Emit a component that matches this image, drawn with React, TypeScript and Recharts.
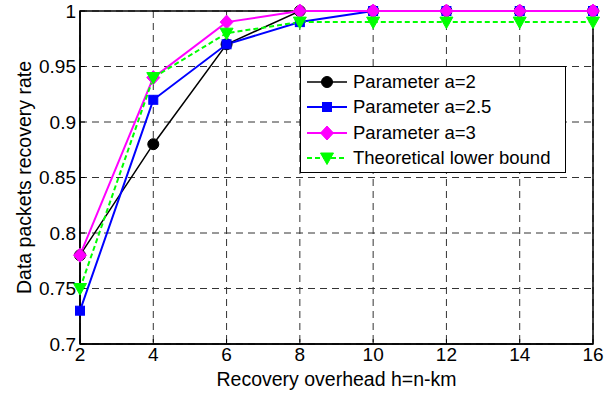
import React from "react";
import { LineChart, Line, XAxis, YAxis, CartesianGrid, ReferenceArea } from "recharts";

const xValues = [2, 4, 6, 8, 10, 12, 14, 16];
const seriesA2 = [0.78, 0.88, 0.97, 1, 1, 1, 1, 1];
const seriesA25 = [0.73, 0.92, 0.97, 0.99, 1, 1, 1, 1];
const seriesA3 = [0.78, 0.94, 0.99, 1, 1, 1, 1, 1];
const lowerBound = [0.75, 0.94, 0.98, 0.99, 0.99, 0.99, 0.99, 0.99];
const xTicks = [2, 4, 6, 8, 10, 12, 14, 16];
const yTicks = [0.7, 0.75, 0.8, 0.85, 0.9, 0.95, 1];

const seriesNames = ["Parameter a=2", "Parameter a=2.5", "Parameter a=3", "Theoretical lower bound"];

const data = xValues.map((x, i) => ({
  x,
  a2: seriesA2[i],
  a25: seriesA25[i],
  a3: seriesA3[i],
  lb: lowerBound[i],
}));

const FONT = "'Liberation Sans', Arial, sans-serif";

type Shape = "circle" | "square" | "diamond" | "triangle";

function Marker({ shape, cx, cy, color }: { shape: Shape; cx: number; cy: number; color: string }) {
  if (shape === "circle") return <circle cx={cx} cy={cy} r={5.5} fill={color} stroke={color} />;
  if (shape === "square") return <rect x={cx - 4.5} y={cy - 4.5} width={9} height={9} fill={color} stroke={color} />;
  if (shape === "diamond")
    return (
      <polygon
        points={`${cx},${cy - 7} ${cx + 6.5},${cy} ${cx},${cy + 7} ${cx - 6.5},${cy}`}
        fill={color}
        stroke={color}
      />
    );
  return (
    <polygon
      points={`${cx - 6.5},${cy - 5} ${cx + 6.5},${cy - 5} ${cx},${cy + 6.5}`}
      fill={color}
      stroke={color}
    />
  );
}

const makeDot = (shape: Shape, color: string) => (props: any) => {
  const { cx, cy, index } = props;
  if (cx == null || cy == null) return <g key={`d-${shape}-${index}`} />;
  return (
    <g key={`d-${shape}-${index}`}>
      <Marker shape={shape} cx={cx} cy={cy} color={color} />
    </g>
  );
};

const legendItems: { name: string; color: string; shape: Shape; dash?: string; width: number }[] = [
  { name: seriesNames[0], color: "#000000", shape: "circle", width: 1.5 },
  { name: seriesNames[1], color: "#0000ff", shape: "square", width: 2 },
  { name: seriesNames[2], color: "#ff00ff", shape: "diamond", width: 2 },
  { name: seriesNames[3], color: "#00ff00", shape: "triangle", dash: "5 3", width: 2 },
];

function LegendBox() {
  return (
    <div
      style={{
        position: "absolute",
        left: 300,
        top: 66,
        width: 266,
        height: 107,
        boxSizing: "border-box",
        border: "1.5px solid #000",
        background: "#fff",
        fontFamily: FONT,
        fontSize: 18.5,
        color: "#000",
        paddingTop: 2,
      }}
    >
      {legendItems.map((it) => (
        <div key={it.name} style={{ display: "flex", alignItems: "center", height: 25.5 }}>
          <svg width={52} height={20} style={{ flex: "none" }}>
            <line x1={6} x2={46} y1={10} y2={10} stroke={it.color} strokeWidth={it.width} strokeDasharray={it.dash} />
            <Marker shape={it.shape} cx={26} cy={10} color={it.color} />
          </svg>
          <span style={{ whiteSpace: "nowrap", lineHeight: "20px" }}>{it.name}</span>
        </div>
      ))}
    </div>
  );
}

export default function App() {
  return (
    <div style={{ position: "absolute", left: 0, top: 0, width: 616, height: 396, background: "#fff" }}>
      <LineChart width={616} height={396} data={data} margin={{ top: 11, right: 23, bottom: 0, left: 0 }}>
        <CartesianGrid stroke="#333" strokeDasharray="7 5" strokeWidth={1} />
        <XAxis
          dataKey="x"
          type="number"
          domain={[2, 16]}
          ticks={xTicks}
          height={52}
          tickSize={-5}
          tickMargin={9}
          axisLine={{ stroke: "#000", strokeWidth: 1.5 }}
          tickLine={{ stroke: "#000" }}
          tick={{ fill: "#000", fontSize: 19, fontFamily: FONT }}
          label={{ value: "Recovery overhead h=n-km", position: "center", dy: 9, fill: "#000", fontSize: 19.5, fontFamily: FONT }}
        />
        <XAxis
          xAxisId="top"
          orientation="top"
          dataKey="x"
          type="number"
          domain={[2, 16]}
          ticks={xTicks}
          height={0}
          tickSize={-5}
          axisLine={{ stroke: "#000", strokeWidth: 1.5 }}
          tickLine={{ stroke: "#000" }}
          tick={false}
        />
        <YAxis
          type="number"
          domain={[0.7, 1]}
          ticks={yTicks}
          width={80}
          tickSize={-5}
          tickMargin={9}
          axisLine={{ stroke: "#000", strokeWidth: 1.5 }}
          tickLine={{ stroke: "#000" }}
          tick={{ fill: "#000", fontSize: 19, fontFamily: FONT }}
          label={{
            value: "Data packets recovery rate",
            angle: -90,
            position: "center",
            dx: -16,
            fill: "#000",
            fontSize: 19.5,
            fontFamily: FONT,
          }}
        />
        <YAxis
          yAxisId="right"
          orientation="right"
          type="number"
          domain={[0.7, 1]}
          ticks={yTicks}
          width={0}
          tickSize={-5}
          axisLine={{ stroke: "#000", strokeWidth: 1.5 }}
          tickLine={{ stroke: "#000" }}
          tick={false}
        />
        <ReferenceArea x1={2} x2={16} y1={0.7} y2={1} fill="none" stroke="#000" strokeWidth={1.5} />
        <Line
          dataKey="a2"
          name={seriesNames[0]}
          stroke="#000000"
          strokeWidth={1.5}
          dot={makeDot("circle", "#000000")}
          isAnimationActive={false}
        />
        <Line
          dataKey="a25"
          name={seriesNames[1]}
          stroke="#0000ff"
          strokeWidth={2}
          dot={makeDot("square", "#0000ff")}
          isAnimationActive={false}
        />
        <Line
          dataKey="a3"
          name={seriesNames[2]}
          stroke="#ff00ff"
          strokeWidth={2}
          dot={makeDot("diamond", "#ff00ff")}
          isAnimationActive={false}
        />
        <Line
          dataKey="lb"
          name={seriesNames[3]}
          stroke="#00ff00"
          strokeWidth={2}
          strokeDasharray="5 3"
          dot={makeDot("triangle", "#00ff00")}
          isAnimationActive={false}
        />
      </LineChart>
      <LegendBox />
    </div>
  );
}
